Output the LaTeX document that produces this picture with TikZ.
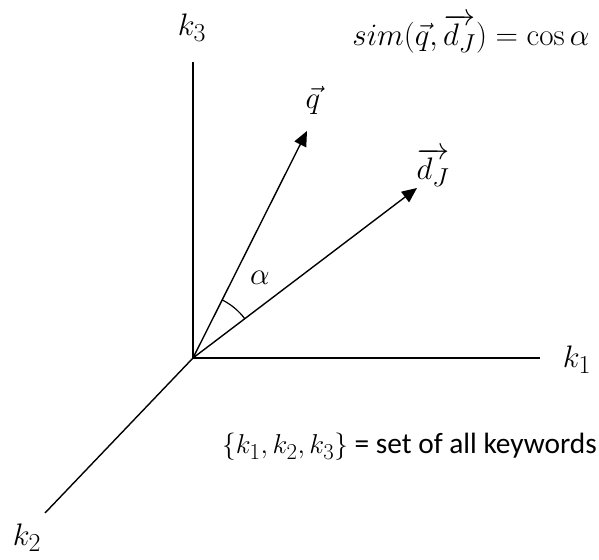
\documentclass[tikz,border=0pt]{standalone}
\usepackage[no-math]{fontspec}
\setmainfont{Carlito}
\usetikzlibrary{arrows.meta,angles}
\begin{document}
\begin{tikzpicture}[x=1pt,y=1pt,
  axis/.style={line width=1.4pt},
  vec/.style={line width=1.4pt,-{Triangle[length=15pt,width=13pt]}},
  lbl/.style={inner sep=0pt,font=\Huge,scale=1.25,transform shape}]
\useasboundingbox (0,0) rectangle (599,559);
\coordinate (O) at (193,201);
\coordinate (k3end) at (193,497);
\coordinate (k1end) at (540,201);
\coordinate (k2end) at (45,46);
\coordinate (qtip) at (307,428);
\coordinate (dtip) at (417,371);
\draw[axis] (O) -- (k3end);
\draw[axis] (O) -- (k1end);
\draw[axis] (O) -- (k2end);
\draw[vec] (O) -- (qtip);
\draw[vec] (O) -- (dtip);
\pic[draw,line width=1.2pt,angle radius=65pt] {angle=dtip--O--qtip};
\node[lbl] (k3) at (192,531) {$k_3$};
\node[lbl] (k1) at (577,199) {$k_1$};
\node[lbl] (k2) at (27,21) {$k_2$};
\node[lbl] (q) at (313,459) {$\vec{q}$};
\node[lbl] (d) at (433,392) {$\overrightarrow{d_J}$};
\node[lbl] (alpha) at (260,281) {$\alpha$};
\node[lbl] (formula) at (471,525) {$sim(\vec{q},\overrightarrow{d_J}) = \cos\alpha$};
\node[inner sep=0pt,font=\Huge,scale=1.18,transform shape,anchor=east] (kw) at (597,112) {\scalebox{0.93}{$\{k_1,k_2,k_3\}$} = set of all keywords};
\end{tikzpicture}
\end{document}
